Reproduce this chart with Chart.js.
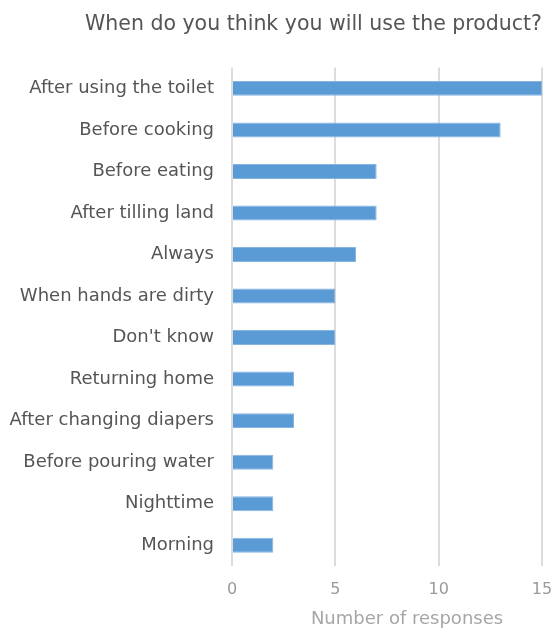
<!DOCTYPE html>
<html>
<head>
<meta charset="utf-8">
<script src="https://cdn.jsdelivr.net/npm/chart.js@4/dist/chart.umd.min.js"></script>
<style>
  html, body { margin: 0; padding: 0; background: #fff; }
  #wrap { width: 554px; height: 628px; }
</style>
</head>
<body>
<div id="wrap"><canvas id="myChart" width="554" height="628"></canvas></div>
<script>
const labels = [
    'After using the toilet', 'Before cooking', 'Before eating', 'After tilling land',
    'Always', 'When hands are dirty', "Don't know", 'Returning home',
    'After changing diapers', 'Before pouring water', 'Nighttime', 'Morning'
];
const responses = [15, 13, 7, 7, 6, 5, 5, 3, 3, 2, 2, 2];
const xTicks = [0, 5, 10, 15];
const xTitle = 'Number of responses';

const font = "'DejaVu Sans', Verdana, sans-serif";

// x axis caption, drawn a little right of the plot centre
const xCaption = {
    id: 'xCaption',
    afterDraw(chart) {
        const x = chart.scales.x;
        const c = chart.ctx;
        c.save();
        c.font = '18px ' + font;
        c.fillStyle = '#a6a6a6';
        c.textAlign = 'center';
        c.textBaseline = 'middle';
        c.fillText(xTitle, (x.left + x.right) / 2 + 20, x.bottom - 9);
        c.restore();
    }
};

const ctx = document.getElementById('myChart').getContext('2d');
const usageChart = new Chart(ctx, {
    type: 'bar',
    data: {
        labels: labels,
        datasets: [{
            label: 'Responses',
            data: responses,
            backgroundColor: '#5b9bd5',
            borderColor: '#86b5e0',
            borderWidth: 1,
            barPercentage: 0.6,
            categoryPercentage: 0.6
        }]
    },
    plugins: [xCaption],
    options: {
        indexAxis: 'y',
        responsive: false,
        animation: false,
        layout: {
            padding: { top: 8, right: 12, left: 4, bottom: 0 }
        },
        plugins: {
            legend: { display: false },
            tooltip: { enabled: false },
            title: {
                display: true,
                text: 'When do you think you will use the product?',
                align: 'end',
                color: '#555',
                font: { family: font, size: 20.5, weight: 'normal' },
                padding: { top: 4, bottom: 31 }
            }
        },
        scales: {
            x: {
                min: 0,
                max: 15,
                afterBuildTicks: function (axis) {
                    axis.ticks = xTicks.map(v => ({ value: v }));
                },
                // fixed height for the tick row plus the caption,
                // and let the "15" label hang into the layout padding
                afterFit: function (axis) {
                    axis.height = 62;
                    axis.paddingLeft = 0;
                    axis.paddingRight = 0;
                },
                grid: {
                    color: '#dcdcdc',
                    lineWidth: 2,
                    drawTicks: false
                },
                border: { display: false },
                ticks: {
                    color: '#9a9a9a',
                    font: { family: font, size: 16 },
                    padding: 14
                }
            },
            y: {
                afterFit: function (axis) {
                    axis.width = 228;
                },
                grid: { display: false, drawTicks: false },
                border: { display: false },
                ticks: {
                    color: '#555',
                    font: { family: font, size: 18 },
                    padding: 18
                }
            }
        }
    }
});
</script>
</body>
</html>
